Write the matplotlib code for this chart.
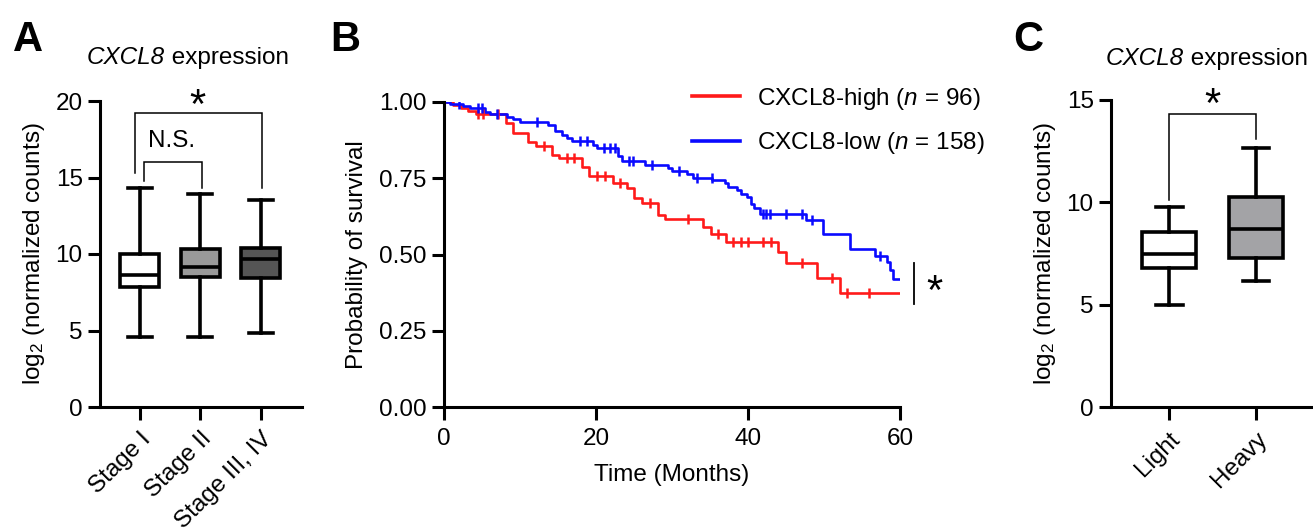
import matplotlib
matplotlib.use("Agg")
import matplotlib.pyplot as plt
import numpy as np

plt.rcParams['font.family'] = ['Liberation Sans', 'DejaVu Sans']
plt.rcParams['mathtext.fontset'] = 'custom'
plt.rcParams['mathtext.rm'] = 'Liberation Sans'
plt.rcParams['mathtext.it'] = 'Liberation Sans:italic'

# ---------------- Panel A data ----------------
stage_labels = ['Stage I', 'Stage II', 'Stage III, IV']
stage_whislo = [4.55, 4.55, 4.85]
stage_q1 = [7.85, 8.5, 8.45]
stage_med = [8.6, 9.15, 9.65]
stage_q3 = [10.0, 10.3, 10.4]
stage_whishi = [14.3, 13.9, 13.5]
stage_colors = ['#ffffff', '#999999', '#555555']

# ---------------- Panel B data ----------------
high_t = [0, 1.2, 2.3, 3.2, 4.2, 8.2, 9.1, 11.1, 12.1, 14.2, 15.1, 18.1, 19.1, 22.2,
          24.1, 25.0, 26.0, 28.2, 29.1, 34.1, 35.1, 37.1, 44.0, 45.0, 49.1, 52.1, 60]
high_s = [1.0, 0.99, 0.98, 0.97, 0.96, 0.93, 0.90, 0.87, 0.855, 0.826, 0.816, 0.787,
          0.757, 0.734, 0.718, 0.685, 0.669, 0.63, 0.616, 0.59, 0.567, 0.541, 0.508,
          0.472, 0.423, 0.374, 0.374]
high_cens = [4.5, 5.1, 7.1, 13.2, 16.2, 17.1, 20.1, 21.2, 23.2, 27.1, 32.1, 36.1, 38.0,
             39.1, 40.0, 42.0, 43.0, 47.1, 51.1, 53.0, 55.9]

low_t = [0, 0.8, 2.5, 3.4, 5.4, 6.0, 8.3, 9.1, 10.0, 13.7, 14.6, 15.5, 16.2, 16.8,
         19.6, 20.1, 22.9, 23.4, 26.4, 29.5, 30.0, 32.0, 32.8, 35.3, 37.0, 37.4, 38.6,
         39.1, 39.9, 40.4, 40.8, 41.6, 47.6, 49.9, 53.4, 56.7, 58.3, 58.7, 59.1, 60]
low_s = [1.0, 0.993, 0.987, 0.98, 0.967, 0.96, 0.95, 0.944, 0.934, 0.925, 0.905, 0.892,
         0.882, 0.872, 0.859, 0.849, 0.823, 0.807, 0.793, 0.783, 0.774, 0.764, 0.751,
         0.744, 0.734, 0.721, 0.711, 0.70, 0.689, 0.666, 0.652, 0.633, 0.613, 0.567,
         0.518, 0.495, 0.477, 0.449, 0.42, 0.42]
low_cens = [2.0, 4.5, 5.0, 7.0, 12.2, 17.9, 18.8, 21.0, 21.8, 22.5, 24.3, 24.9, 27.4,
            30.9, 33.3, 35.2, 42.0, 42.4, 42.9, 45.0, 47.1, 48.4, 57.4]

# ---------------- Panel C data ----------------
smoke_labels = ['Light', 'Heavy']
smoke_whislo = [4.98, 6.15]
smoke_q1 = [6.8, 7.28]
smoke_med = [7.5, 8.7]
smoke_q3 = [8.55, 10.26]
smoke_whishi = [9.77, 12.65]
smoke_colors = ['#ffffff', '#a3a3a6']

W, H = 1313, 530
fig = plt.figure(figsize=(W / 100, H / 100), dpi=100)
renderer = fig.canvas.get_renderer()


def ax_px(x0, x1, ytop, ybot):
    return fig.add_axes([x0 / W, (H - ybot) / H, (x1 - x0) / W, (ybot - ytop) / H])


FS = 17.5
SPW = 2.2
STARFS = 30
LETTERFS = 30


def style(ax):
    for s in ['top', 'right']:
        ax.spines[s].set_visible(False)
    for s in ['left', 'bottom']:
        ax.spines[s].set_linewidth(SPW)
    ax.tick_params(width=SPW, length=9, labelsize=FS, color='black')
    ax.tick_params(axis='x', pad=6)


def boxes(ax, labels, lo, q1, med, q3, hi, colors, width, capw):
    stats = []
    for i in range(len(labels)):
        stats.append(dict(whislo=lo[i], q1=q1[i], med=med[i], q3=q3[i], whishi=hi[i],
                          label=labels[i], fliers=[]))
    b = ax.bxp(stats, positions=range(len(labels)), widths=width, patch_artist=True,
               showfliers=False, capwidths=capw,
               boxprops=dict(linewidth=2.6, edgecolor='black'),
               medianprops=dict(linewidth=2.6, color='black'),
               whiskerprops=dict(linewidth=2.6, color='black'),
               capprops=dict(linewidth=2.6, color='black'))
    for p, c in zip(b['boxes'], colors):
        p.set_facecolor(c)
        p.set_joinstyle('miter')


def bracket(ax, x1, x2, y1, y2, ytop, lw=1.1):
    ax.plot([x1, x1, x2, x2], [y1, ytop, ytop, y2], color='black', lw=lw,
            clip_on=False, solid_joinstyle='miter')


def title(xc, yc):
    t1 = fig.text(0, 1 - yc / H, 'CXCL8', style='italic', ha='left', va='baseline',
                  fontsize=FS)
    t2 = fig.text(0, 1 - yc / H, ' expression', ha='left', va='baseline', fontsize=FS)
    w1 = t1.get_window_extent(renderer).width
    w2 = t2.get_window_extent(renderer).width
    x0 = xc - (w1 + w2) / 2
    t1.set_x(x0 / W)
    t2.set_x((x0 + w1) / W)


# ---------- Panel A ----------
axA = ax_px(100, 302, 101, 407)
boxes(axA, stage_labels, stage_whislo, stage_q1, stage_med, stage_q3, stage_whishi,
      stage_colors, 0.645, 0.4)
axA.set_xlim(-0.66, 2.68)
axA.set_ylim(0, 20)
axA.set_yticks([0, 5, 10, 15, 20])
style(axA)
axA.set_xticks(range(3))
axA.set_xticklabels(stage_labels, rotation=45, ha='right', rotation_mode='anchor')
axA.set_ylabel('log$_2$ (normalized counts)', fontsize=FS, labelpad=6)
bracket(axA, -0.08, 2.02, 15.3, 14.3, 19.2)
bracket(axA, 0.06, 1.02, 14.8, 14.3, 16.0)
axA.text(0.95, 19.6, '*', ha='center', va='center', fontsize=STARFS)
axA.text(0.53, 17.4, 'N.S.', ha='center', va='center', fontsize=FS)
title(188, 64)
fig.text(13 / W, 1 - 40 / H, 'A', ha='left', va='center', fontsize=LETTERFS, weight='bold')

# ---------- Panel B ----------
axB = ax_px(444, 900, 102, 407)
axB.step(high_t, high_s, where='post', color='#ff1a1a', lw=1.9,
         label='CXCL8-high ($\\it{n}$ = 96)')
axB.step(low_t, low_s, where='post', color='#0a0aff', lw=1.9,
         label='CXCL8-low ($\\it{n}$ = 158)')


def surv_at(ts, ss, t):
    idx = np.searchsorted(ts, t, side='right') - 1
    return np.asarray(ss)[idx]


axB.plot(high_cens, surv_at(high_t, high_s, high_cens), ls='none', marker='|',
         ms=7, mew=1.8, color='#ff1a1a')
axB.plot(low_cens, surv_at(low_t, low_s, low_cens), ls='none', marker='|',
         ms=7, mew=1.8, color='#0a0aff')
axB.set_xlim(0, 60)
axB.set_ylim(0, 1)
axB.set_xticks([0, 20, 40, 60])
axB.set_yticks([0, 0.25, 0.5, 0.75, 1.0])
axB.set_yticklabels(['0.00', '0.25', '0.50', '0.75', '1.00'])
style(axB)
axB.set_xlabel('Time (Months)', fontsize=FS, labelpad=10)
axB.set_ylabel('Probability of survival', fontsize=FS, labelpad=8)
axB.plot([61.8, 61.8], [0.338, 0.472], color='black', lw=1.3, clip_on=False)
axB.text(64.5, 0.375, '*', ha='center', va='center', fontsize=STARFS, clip_on=False)
leg = axB.legend(loc='upper left', bbox_to_anchor=((682 - 444) / 456, 1.085),
                 frameon=False, fontsize=FS, handlelength=2.0, handletextpad=0.7,
                 labelspacing=0.75, borderaxespad=0)
for l in leg.get_lines():
    l.set_linewidth(2.6)
fig.text(330 / W, 1 - 40 / H, 'B', ha='left', va='center', fontsize=LETTERFS, weight='bold')

# ---------- Panel C ----------
axC = ax_px(1111, 1340, 100, 407)
boxes(axC, smoke_labels, smoke_whislo, smoke_q1, smoke_med, smoke_q3, smoke_whishi,
      smoke_colors, 0.63, 0.31)
axC.set_xlim(-0.667, (1340 - 1169) / 87)
axC.set_ylim(0, 15)
axC.set_yticks([0, 5, 10, 15])
style(axC)
axC.set_xticks([0, 1])
axC.set_xticklabels(smoke_labels, rotation=45, ha='right', rotation_mode='anchor')
axC.set_ylabel('log$_2$ (normalized counts)', fontsize=FS, labelpad=6)
bracket(axC, 0, 1, 10.1, 13.1, 14.3)
axC.text(0.5, 14.7, '*', ha='center', va='center', fontsize=STARFS, clip_on=False)
title(1207, 65)
fig.text(1013 / W, 1 - 40 / H, 'C', ha='left', va='center', fontsize=LETTERFS, weight='bold')

fig.savefig('out.png', dpi=100)
